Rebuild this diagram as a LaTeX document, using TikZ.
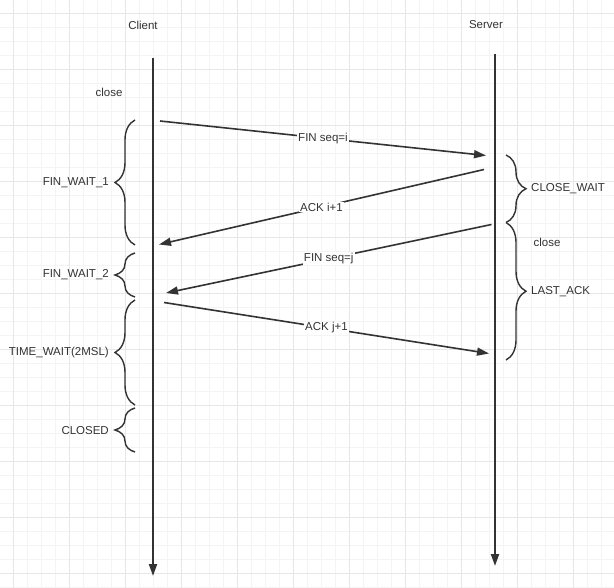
\documentclass[tikz,border=0pt]{standalone}
\usepackage{fontspec}
\setmainfont{Liberation Sans}
\usetikzlibrary{arrows.meta,decorations.pathreplacing}
\definecolor{SeqInk}{HTML}{333333}
\definecolor{GridMinor}{HTML}{F4F4F4}
\definecolor{GridMajor}{HTML}{E7E7E7}

\tikzset{
  lbl/.style={text=SeqInk,inner sep=1pt,font=\fontsize{11.5}{13}\selectfont},
  msg/.style={SeqInk,line width=1.6pt,-{Triangle[length=12pt,width=8pt]}},
  life/.style={SeqInk,line width=2pt,-{Triangle[length=12pt,width=8pt]}},
  brc/.style={SeqInk,line width=1.4pt,decorate,decoration={brace,amplitude=20pt}}
}

\begin{document}
\begin{tikzpicture}[x=1pt,y=-1pt]
  \useasboundingbox (0,0) rectangle (614,588);
  \fill[white] (0,0) rectangle (614,588);
  % grid
  \foreach \g in {-0.5,13.5,...,614} {
    \draw[GridMinor,line width=0.8pt] (\g,0) -- (\g,588);
  }
  \foreach \g in {-0.5,13.5,...,588} {
    \draw[GridMinor,line width=0.8pt] (0,\g) -- (614,\g);
  }
  \foreach \g in {13.5,69.5,...,614} {
    \draw[GridMajor,line width=0.9pt] (\g,0) -- (\g,588);
  }
  \foreach \g in {13.5,69.5,...,588} {
    \draw[GridMajor,line width=0.9pt] (0,\g) -- (614,\g);
  }

  % lifelines
  \node[lbl] (client) at (143,25) {Client};
  \node[lbl] (server) at (486,25) {Server};
  \coordinate (cTop) at (153,58);
  \coordinate (cEnd) at (153,576);
  \coordinate (sTop) at (495,54);
  \coordinate (sEnd) at (495,566);
  \draw[life] (cTop) -- (cEnd);
  \draw[life] (sTop) -- (sEnd);

  % messages
  \coordinate (m1a) at (160,121);
  \coordinate (m1b) at (486,155.5);
  \coordinate (m2a) at (484,169.5);
  \coordinate (m2b) at (159,244.5);
  \coordinate (m3a) at (491.5,224.5);
  \coordinate (m3b) at (166,293);
  \coordinate (m4a) at (164,302.5);
  \coordinate (m4b) at (489,353.5);
  \draw[msg] (m1a) -- node[lbl,fill=white] (finI) {FIN seq=i} (m1b);
  \draw[msg] (m2a) -- node[lbl,fill=white] (ackI) {ACK i+1} (m2b);
  \draw[msg] (m3a) -- node[lbl,fill=white] (finJ) {FIN seq=j} (m3b);
  \draw[msg] (m4a) -- node[lbl,fill=white] (ackJ) {ACK j+1} (m4b);

  % client states
  \node[lbl] (cClose) at (109,92) {close};
  \draw[brc] (135,245) -- (135,120);
  \node[lbl,anchor=east] (fw1) at (110,183) {FIN\_WAIT\_1};
  \draw[brc] (135,297) -- (135,253);
  \node[lbl,anchor=east] (fw2) at (110,275) {FIN\_WAIT\_2};
  \draw[brc] (135,405) -- (135,300);
  \node[lbl,anchor=east] (tw) at (110,353) {TIME\_WAIT(2MSL)};
  \draw[brc] (135,452) -- (135,408);
  \node[lbl,anchor=east] (closed) at (110,431) {CLOSED};

  % server states
  \draw[brc] (506,155) -- (506,222.5);
  \node[lbl,anchor=west] (cw) at (530,189) {CLOSE\_WAIT};
  \node[lbl] (sClose) at (547,242) {close};
  \draw[brc] (506,222.5) -- (506,360);
  \node[lbl,anchor=west] (la) at (530,292) {LAST\_ACK};
\end{tikzpicture}
\end{document}
